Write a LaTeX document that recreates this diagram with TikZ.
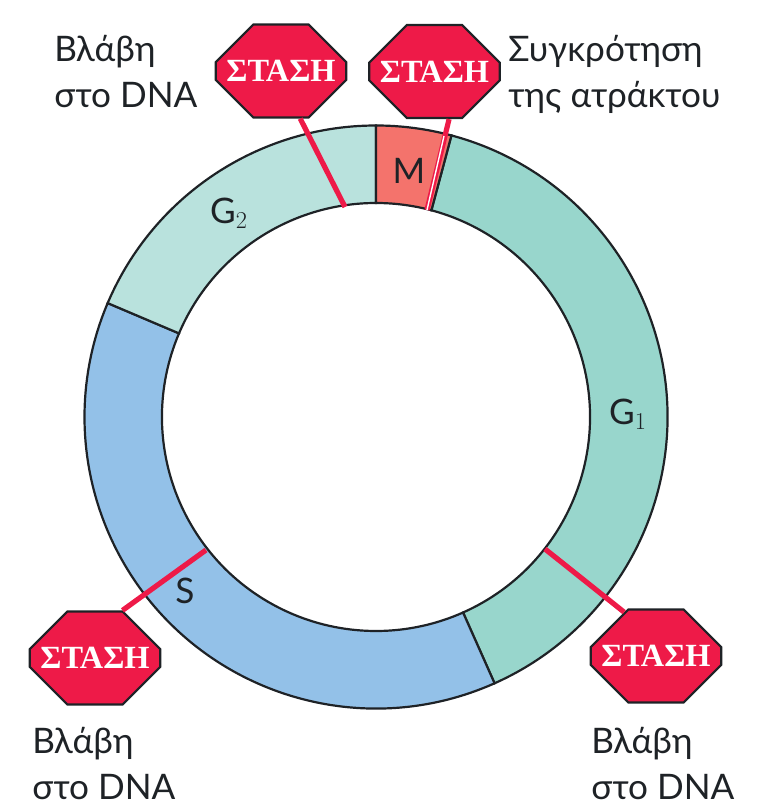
\documentclass[tikz,border=0pt]{standalone}
\usepackage{fontspec}
\setmainfont{Lato}
\newfontfamily\stopfont{Liberation Serif}
\usetikzlibrary{shapes.misc}
\definecolor{stopred}{HTML}{EE1A48}
\definecolor{mcol}{HTML}{F4736C}
\definecolor{gonecol}{HTML}{98D6CC}
\definecolor{gtwocol}{HTML}{B9E2DD}
\definecolor{scol}{HTML}{93C1E8}
\definecolor{inkcol}{HTML}{1E2226}
\newcommand{\ringsector}[3]{% from, to, colour
  \filldraw[fill=#3,draw=inkcol,line width=0.55mm] (#1:214) -- (#1:291.5) arc[start angle=#1,end angle=#2,radius=291.5] -- (#2:214) arc[start angle=#2,end angle=#1,radius=214] -- cycle;
}
\begin{document}
\begin{tikzpicture}[
  x=0.25mm, y=0.25mm,
  stopsign/.style={chamfered rectangle,chamfered rectangle xsep=9mm,chamfered rectangle ysep=6.75mm,
    minimum width=31.25mm,minimum height=23.25mm,inner sep=0pt,fill=stopred,draw=inkcol,line width=0.55mm,
    text=white,font=\stopfont\bfseries\fontsize{23}{23}\selectfont},
  chkline/.style={draw=stopred,line width=1.3mm},
  lbl/.style={align=left,anchor=north west,inner sep=0pt,text=inkcol,font=\fontsize{25}{33}\selectfont},
  phase/.style={inner sep=0pt,text=inkcol,font=\fontsize{25}{25}\selectfont}
]
\useasboundingbox (-376,-394) rectangle (384,417);
% ring
\ringsector{75}{-66}{gonecol}
\ringsector{-66}{-203}{scol}
\ringsector{157}{90}{gtwocol}
\ringsector{90}{75}{mcol}
\node[phase] (labm) at (33,246) {M};
\node[phase] (labgb) at (-147,204) {G$_2$};
\node[phase] (labga) at (252,3) {G$_1$};
\node[phase] (labs) at (-191,-174) {S};
% signs
\node[stopsign] (stopa) at (-95,346) {ΣΤΑΣΗ};
\node[stopsign] (stopb) at (58.5,345.5) {ΣΤΑΣΗ};
\node[stopsign] (stopc) at (-281,-241) {ΣΤΑΣΗ};
\node[stopsign] (stopd) at (280,-239) {ΣΤΑΣΗ};
\coordinate (chka) at (-31,210);
\coordinate (chkb) at (51,207);
\coordinate (chkbm) at (68,281);
\coordinate (chkc) at (-170,-133);
\coordinate (chkd) at (169,-132);
\draw[chkline] (stopa.-68) -- (chka);
\draw[chkline] (stopb.-73) -- (chkb);
\draw[white,line width=0.35mm] (chkbm) -- (chkb);
\draw[chkline] (stopc.60) -- (chkc);
\draw[chkline] (stopd.126) -- (chkd);
% labels
\node[lbl] (laba) at (-322,382) {Βλάβη\\στο DNA};
\node[lbl] (labb) at (132,382) {Συγκρότηση\\της ατράκτου};
\node[lbl] (labc) at (-344,-310) {Βλάβη\\στο DNA};
\node[lbl] (labd) at (215,-310) {Βλάβη\\στο DNA};
\end{tikzpicture}
\end{document}
